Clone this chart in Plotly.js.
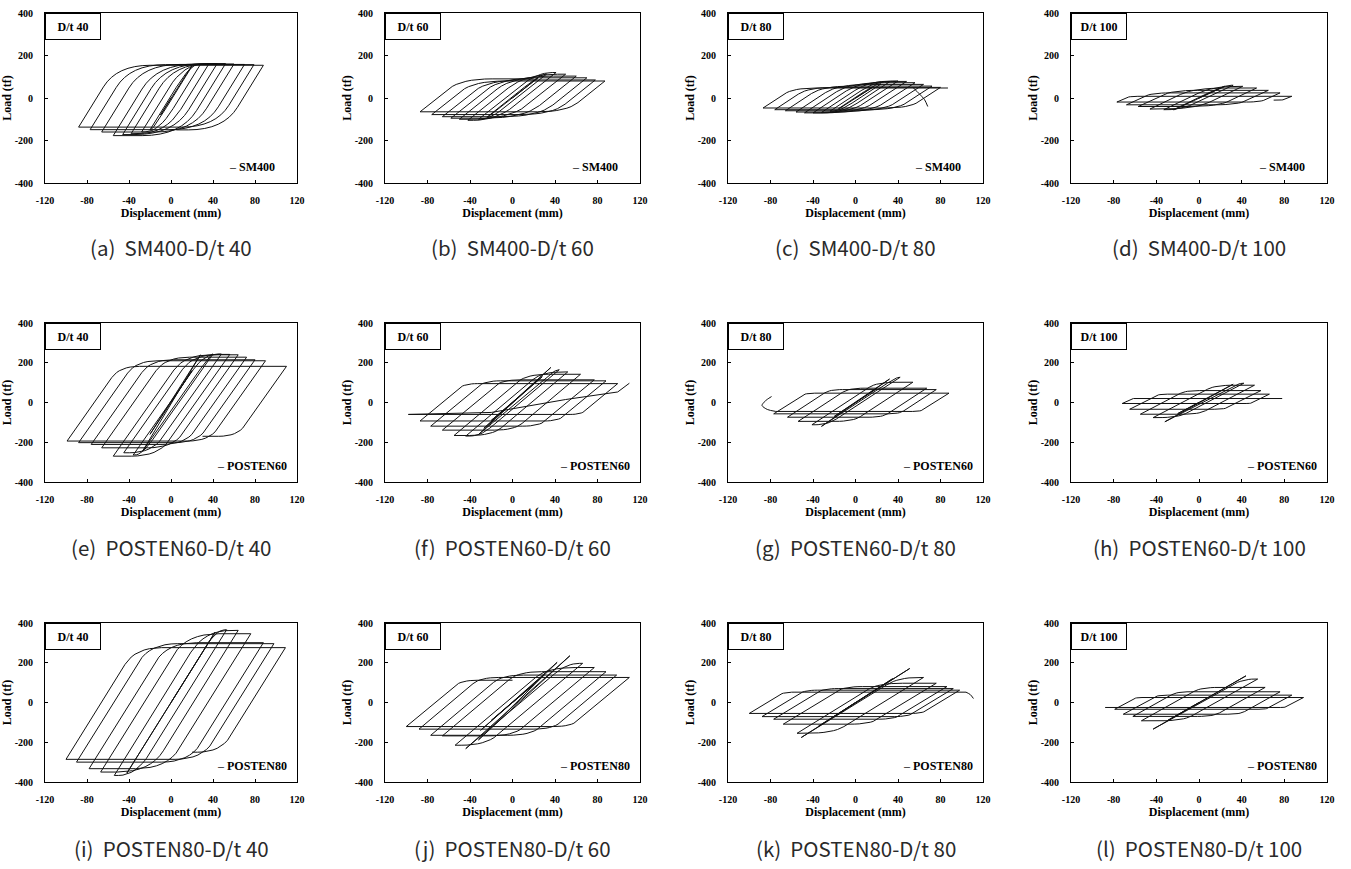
<!DOCTYPE html>
<html>
<head>
<meta charset="utf-8">
<script src="https://cdn.plot.ly/plotly-3.0.1.min.js"></script>
<style>
  html, body { margin: 0; padding: 0; background: #fff; }
  #chart { width: 1351px; height: 869px; }
</style>
</head>
<body>
<div id="chart"></div>
<script>
// ---------------- DATA ----------------
const captions = [
  '(a)  SM400-D/t 40', '(b)  SM400-D/t 60', '(c)  SM400-D/t 80', '(d)  SM400-D/t 100',
  '(e)  POSTEN60-D/t 40', '(f)  POSTEN60-D/t 60', '(g)  POSTEN60-D/t 80', '(h)  POSTEN60-D/t 100',
  '(i)  POSTEN80-D/t 40', '(j)  POSTEN80-D/t 60', '(k)  POSTEN80-D/t 80', '(l)  POSTEN80-D/t 100'
];
const ratioLabels = ['D/t 40', 'D/t 60', 'D/t 80', 'D/t 100'];
const steelNames = ['SM400', 'POSTEN60', 'POSTEN80'];
const xTickVals = [-120, -80, -40, 0, 40, 80, 120];
const xTickText = ['-120', '-80', '-40', '0', '40', '80', '120'];
const yTickVals = [-400, -200, 0, 200, 400];
const yTickText = ['-400', '-200', '0', '200', '400'];
const xTitle = 'Displacement (mm)';
const yTitle = 'Load (tf)';

// Reversal (peak) points of each hysteresis test, in loading order: displacement (mm), load (tf)
const revDisp_a = [10,-10,20,-20,28,-28,36,-38,44,-46,52,-55,60,-66,70,-77,79,-88,88,5];
const revLoad_a = [80,-80,150,-150,158,-160,160,-168,162,-172,162,-177,160,-160,158,-149,157,-137,154,-150];
const revDisp_b = [8,-8,16,-16,24,-24,32,-32,41,-42,50,-50,60,-58,70,-66,78,-76,87,-87,20];
const revLoad_b = [32,-32,64,-64,95,-90,112,-100,120,-105,112,-100,103,-95,95,-88,85,-78,80,-65,90];
const revDisp_c = [8,-8,16,-16,24,-24,32,-32,40,-40,48,-48,56,-56,64,-66,72,-76,80,-87,87];
const revLoad_c = [26,-26,50,-50,66,-62,76,-68,80,-70,78,-70,72,-66,64,-60,56,-55,50,-47,47];
const revDisp_d = [8,-8,16,-16,24,-24,32,-33,41,-46,54,-57,65,-68,76,-77,87,70];
const revLoad_d = [19,-19,38,-38,55,-55,60,-55,55,-52,47,-40,36,-32,24,-19,8,-10];
const revDisp_e = [10,-10,20,-20,28,-27,40,-36,48,-45,56,-55,64,-66,72,-76,80,-88,90,-99,110,30];
const revLoad_e = [80,-80,160,-160,240,-244,244,-264,244,-253,242,-270,240,-228,228,-211,215,-202,210,-194,182,-170];
const revDisp_f = [10,-10,20,-20,28,-27,36,-32,44,-44,52,-55,64,-66,77,-77,88,-87,99,-98];
const revLoad_f = [45,-45,90,-90,130,-130,176,-161,165,-169,154,-166,142,-139,114,-119,109,-93,95,-60];
const revDisp_g = [10,-10,20,-20,32,-32,42,-41,54,-54,67,-64,76,-77,88,-75];
const revLoad_g = [35,-35,70,-70,118,-120,127,-112,102,-95,72,-74,65,-57,47,-45];
const revDisp_h = [10,-10,20,-20,32,-32,42,-43,52,-55,58,-65,66,-72,78];
const revLoad_h = [28,-28,56,-56,92,-97,97,-76,87,-59,60,-34,42,-5,20];
const revDisp_i = [10,-10,20,-20,30,-30,42,-42,53,-54,64,-67,76,-78,88,-90,98,-100,109,20];
const revLoad_i = [85,-85,170,-170,255,-255,354,-355,366,-367,363,-350,346,-333,301,-300,296,-286,276,-250];
const revDisp_j = [10,-10,20,-20,30,-30,42,-32,54,-44,66,-54,77,-66,88,-77,98,-88,110,-100,0];
const revLoad_j = [45,-45,90,-90,140,-140,202,-188,235,-232,197,-215,176,-168,155,-165,138,-134,126,-121,112];
const revDisp_k = [10,-10,20,-20,35,-35,51,-51,64,-55,76,-68,86,-77,92,-88,98,-100,104];
const revLoad_k = [35,-35,70,-70,120,-120,171,-176,126,-155,97,-109,80,-84,70,-71,62,-55,52];
const revDisp_l = [10,-10,20,-20,30,-30,44,-43,55,-54,62,-62,76,-71,87,-79,98,-88];
const revLoad_l = [30,-30,60,-60,90,-92,134,-134,118,-92,76,-70,54,-59,37,-34,25,-25];

// Unloading stiffness read from the slope of the parallel branches (tf/mm)
const stiffness = [8, 4, 3.3, 2.4, 7.5, 4.5, 3.5, 2.8, 8.5, 4.5, 3.3, 3];

// End branches (post-buckling tails)
const tailDisp_c = [54, 60, 65, 68];
const tailLoad_c = [50, 20, -8, -40];
const tailDisp_f = [-98, -20, 50, 99, 110];
const tailLoad_f = [-60, -50, 15, 53, 97];
const tailDisp_g = [-75, -83, -88, -86, -83, -79];
const tailLoad_g = [-45, -35, -15, 2, 16, 30];
const tailDisp_k = [104, 108, 111];
const tailLoad_k = [52, 40, 20];

// ---------------- LAYOUT CONSTANTS ----------------
const W = 1351, H = 869;
const colsPx = [[45, 297], [385, 640], [728, 983], [1071, 1327]];
const rowsPx = [[13, 183], [323, 482], [623, 782]];
const captionY = [247, 547, 848];
const rounding = [0.35, 0.3, 0.3, 0.3, 0.15, 0.12, 0.12, 0.12, 0.15, 0.12, 0.12, 0.12];

const revDisp = [revDisp_a, revDisp_b, revDisp_c, revDisp_d, revDisp_e, revDisp_f,
                 revDisp_g, revDisp_h, revDisp_i, revDisp_j, revDisp_k, revDisp_l];
const revLoad = [revLoad_a, revLoad_b, revLoad_c, revLoad_d, revLoad_e, revLoad_f,
                 revLoad_g, revLoad_h, revLoad_i, revLoad_j, revLoad_k, revLoad_l];
const tails = { 2: [tailDisp_c, tailLoad_c, 'spline'], 5: [tailDisp_f, tailLoad_f, 'linear'],
                6: [tailDisp_g, tailLoad_g, 'spline'], 10: [tailDisp_k, tailLoad_k, 'spline'] };

// Path through the reversal points: elastic branch with the read stiffness, rounded knee, plateau to the peak
function buildLoop(ds, fs, k, rho) {
  const xs = [0], ys = [0];
  let cd = 0, cf = 0;
  for (let i = 0; i < ds.length; i++) {
    const td = ds[i], tf = fs[i];
    const dir = tf >= cf ? 1 : -1;
    const df = tf - cf;
    const kneeD = cd + df / k;
    const room = (td - kneeD) * dir;
    if (room <= 0) {
      xs.push(td); ys.push(tf);
    } else {
      const r = rho * Math.abs(df);
      const A = [kneeD - dir * r / k, tf - dir * r];
      const L = Math.min(2.5 * r / k, room * 0.8);
      const B = [kneeD + dir * L, tf];
      xs.push(A[0]); ys.push(A[1]);
      for (let j = 1; j < 8; j++) {
        const t = j / 8, u = 1 - t;
        xs.push(u * u * A[0] + 2 * t * u * kneeD + t * t * B[0]);
        ys.push(u * u * A[1] + 2 * t * u * tf + t * t * B[1]);
      }
      xs.push(B[0]); ys.push(B[1]);
      xs.push(td); ys.push(tf);
    }
    cd = td; cf = tf;
  }
  return [xs, ys];
}

const serif = 'Liberation Serif, Times New Roman, serif';
const traces = [];
const layout = {
  width: W, height: H,
  margin: { l: 0, r: 0, t: 0, b: 0 },
  paper_bgcolor: '#fff', plot_bgcolor: '#fff',
  showlegend: false,
  annotations: [],
  font: { family: serif, color: '#000' }
};

for (let p = 0; p < 12; p++) {
  const row = Math.floor(p / 4), col = p % 4;
  const sfx = p === 0 ? '' : String(p + 1);
  const xa = 'x' + sfx, ya = 'y' + sfx;
  const [l, r] = colsPx[col];
  const [t, b] = rowsPx[row];

  const [xs, ys] = buildLoop(revDisp[p], revLoad[p], stiffness[p], rounding[p]);
  traces.push({
    x: xs, y: ys, type: 'scatter', mode: 'lines', xaxis: xa, yaxis: ya,
    line: { color: '#111', width: 1 }, hoverinfo: 'skip', showlegend: false
  });
  if (tails[p]) {
    traces.push({
      x: tails[p][0], y: tails[p][1], type: 'scatter', mode: 'lines', xaxis: xa, yaxis: ya,
      line: { color: '#111', width: 1, shape: tails[p][2], smoothing: 0.8 }, hoverinfo: 'skip', showlegend: false
    });
  }

  layout['xaxis' + sfx] = {
    domain: [l / W, r / W], anchor: ya, range: [-120, 120],
    tickvals: xTickVals, ticktext: xTickText,
    tickfont: { family: serif, size: 10, weight: 'bold', color: '#000' },
    ticks: 'inside', ticklen: 3, tickcolor: '#000', ticklabelstandoff: 8,
    showline: true, mirror: true, linecolor: '#000', linewidth: 1,
    showgrid: false, zeroline: false, fixedrange: true,
    title: { text: xTitle, font: { family: serif, size: 12, weight: 'bold', color: '#000' }, standoff: 1 }
  };
  layout['yaxis' + sfx] = {
    domain: [1 - b / H, 1 - t / H], anchor: xa, range: [-400, 400],
    tickvals: yTickVals, ticktext: yTickText,
    tickfont: { family: serif, size: 10, weight: 'bold', color: '#000' },
    ticks: 'inside', ticklen: 3, tickcolor: '#000', ticklabelstandoff: 9,
    showline: true, mirror: true, linecolor: '#000', linewidth: 1,
    showgrid: false, zeroline: false, fixedrange: true,
    title: { text: yTitle, font: { family: serif, size: 12, weight: 'bold', color: '#000' }, standoff: 0 }
  };

  // D/t box in the upper-left corner
  layout.annotations.push({
    xref: xa + ' domain', yref: ya + ' domain', x: 0, y: 1,
    xanchor: 'left', yanchor: 'top', showarrow: false,
    text: '<b>' + ratioLabels[col] + '</b>',
    font: { family: serif, size: 12, color: '#000' },
    width: 54, height: 25, align: 'center', valign: 'middle',
    bordercolor: '#000', borderwidth: 1, borderpad: 0, bgcolor: '#fff'
  });
  // legend label lower right
  const inset = row === 0 ? 20 : 8;
  layout.annotations.push({
    xref: 'paper', yref: 'paper', x: (r - inset) / W, y: 1 - (b - 16) / H,
    xanchor: 'right', yanchor: 'middle', showarrow: false,
    text: '– <b>' + steelNames[row] + '</b>',
    font: { family: serif, size: 12, color: '#000' }
  });
  // caption below
  layout.annotations.push({
    xref: 'paper', yref: 'paper', x: ((l + r) / 2) / W, y: 1 - captionY[row] / H,
    xanchor: 'center', yanchor: 'middle', showarrow: false,
    text: captions[p],
    font: { family: 'Noto Sans CJK KR, Noto Sans, sans-serif', size: 20.5, color: '#2a2a2a' }
  });
}

Plotly.newPlot('chart', traces, layout, { displayModeBar: false, staticPlot: true });
</script>
</body>
</html>
